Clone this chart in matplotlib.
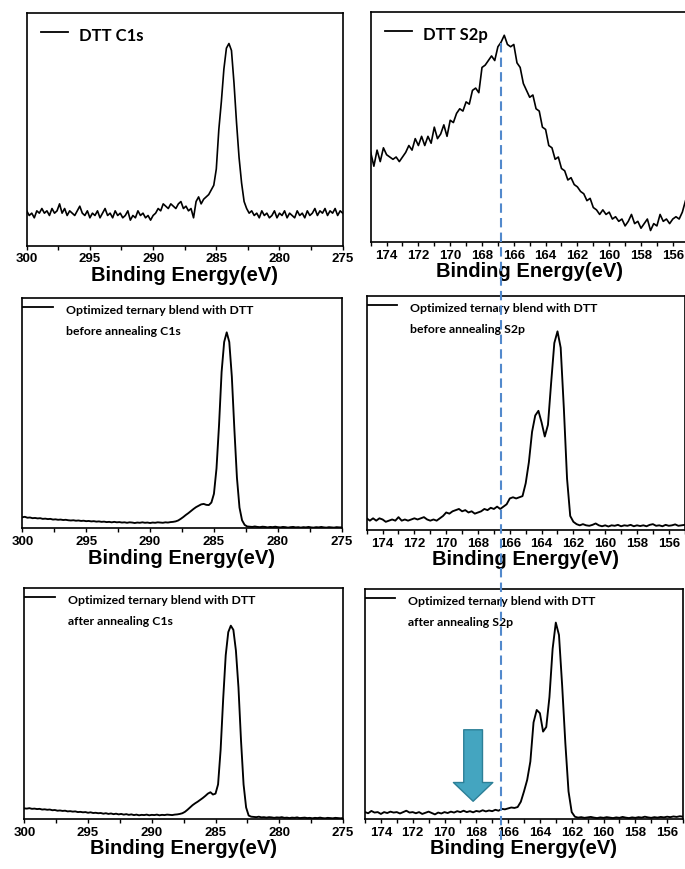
""" XPS C1s / S2p spectra of DTT and the optimized ternary blend (before / after annealing) """

import numpy as np
import matplotlib
matplotlib.use("Agg")
from matplotlib import pyplot as plt
from matplotlib.lines import Line2D
from matplotlib.ticker import MultipleLocator
from matplotlib.font_manager import FontProperties

W, H = 685, 870

# scans are on a 0.2 eV grid, C1s from 300 eV down, S2p from 175 eV down
STEP = 0.2
C1S_START = 300.0
S2P_START = 175.0

# intensities, normalised to the plot height (a.u.)
dtt_c1s = [
	0.15, 0.13, 0.14, 0.12, 0.15, 0.14, 0.16, 0.14, 0.15, 0.13,
	0.16, 0.14, 0.15, 0.18, 0.14, 0.16, 0.13, 0.15, 0.14, 0.13,
	0.15, 0.17, 0.14, 0.13, 0.15, 0.12, 0.14, 0.13, 0.15, 0.12,
	0.14, 0.16, 0.13, 0.14, 0.12, 0.15, 0.13, 0.14, 0.12, 0.13,
	0.15, 0.11, 0.13, 0.12, 0.15, 0.13, 0.14, 0.12, 0.13, 0.11,
	0.13, 0.14, 0.16, 0.15, 0.18, 0.17, 0.16, 0.18, 0.17, 0.16,
	0.18, 0.19, 0.16, 0.17, 0.15, 0.16, 0.12, 0.19, 0.21, 0.18,
	0.20, 0.21, 0.22, 0.24, 0.26, 0.33, 0.50, 0.62, 0.76, 0.85,
	0.87, 0.84, 0.70, 0.53, 0.38, 0.27, 0.19, 0.16, 0.14, 0.15,
	0.13, 0.14, 0.12, 0.15, 0.13, 0.14, 0.12, 0.13, 0.15, 0.12,
	0.14, 0.13, 0.15, 0.12, 0.14, 0.13, 0.12, 0.15, 0.13, 0.14,
	0.12, 0.15, 0.13, 0.14, 0.16, 0.13, 0.15, 0.14, 0.16, 0.13,
	0.15, 0.14, 0.16, 0.13, 0.15, 0.14,
]
dtt_s2p = [
	0.39, 0.33, 0.40, 0.35, 0.41, 0.38, 0.37, 0.36, 0.37, 0.35,
	0.37, 0.39, 0.42, 0.40, 0.45, 0.42, 0.46, 0.42, 0.46, 0.43,
	0.50, 0.45, 0.47, 0.51, 0.46, 0.53, 0.52, 0.56, 0.58, 0.57,
	0.61, 0.60, 0.66, 0.67, 0.65, 0.76, 0.77, 0.79, 0.81, 0.79,
	0.85, 0.87, 0.90, 0.86, 0.85, 0.86, 0.78, 0.76, 0.69, 0.66,
	0.63, 0.64, 0.58, 0.57, 0.50, 0.49, 0.42, 0.41, 0.36, 0.37,
	0.32, 0.31, 0.27, 0.28, 0.25, 0.24, 0.22, 0.21, 0.18, 0.19,
	0.15, 0.14, 0.12, 0.14, 0.12, 0.13, 0.10, 0.11, 0.09, 0.10,
	0.07, 0.09, 0.12, 0.08, 0.09, 0.06, 0.08, 0.10, 0.05, 0.08,
	0.07, 0.12, 0.09, 0.10, 0.08, 0.10, 0.11, 0.10, 0.13, 0.18,
	0.22,
]
before_c1s = [
	0.048, 0.050, 0.046, 0.047, 0.044, 0.045, 0.043, 0.044, 0.041, 0.042,
	0.040, 0.041, 0.038, 0.039, 0.037, 0.038, 0.036, 0.037, 0.035, 0.034,
	0.035, 0.033, 0.034, 0.032, 0.033, 0.031, 0.032, 0.030, 0.031, 0.029,
	0.030, 0.028, 0.029, 0.027, 0.028, 0.026, 0.028, 0.026, 0.027, 0.025,
	0.026, 0.024, 0.026, 0.025, 0.023, 0.025, 0.024, 0.026, 0.024, 0.025,
	0.023, 0.025, 0.024, 0.026, 0.025, 0.024, 0.026, 0.025, 0.027, 0.028,
	0.030, 0.034, 0.041, 0.049, 0.058, 0.066, 0.075, 0.084, 0.092, 0.098,
	0.104, 0.106, 0.102, 0.101, 0.112, 0.150, 0.260, 0.450, 0.680, 0.810,
	0.852, 0.810, 0.660, 0.430, 0.220, 0.090, 0.035, 0.015, 0.008, 0.007,
	0.006, 0.008, 0.006, 0.005, 0.007, 0.006, 0.004, 0.006, 0.005, 0.007,
	0.005, 0.004, 0.006, 0.005, 0.003, 0.005, 0.006, 0.004, 0.005, 0.003,
	0.005, 0.004, 0.006, 0.004, 0.003, 0.005, 0.004, 0.006, 0.004, 0.003,
	0.005, 0.004, 0.003, 0.005, 0.004, 0.004,
]
before_s2p = [
	0.050, 0.040, 0.050, 0.040, 0.050, 0.045, 0.035, 0.040, 0.045, 0.040,
	0.055, 0.040, 0.045, 0.040, 0.045, 0.050, 0.045, 0.050, 0.055, 0.045,
	0.040, 0.045, 0.040, 0.050, 0.060, 0.075, 0.070, 0.080, 0.085, 0.090,
	0.080, 0.085, 0.075, 0.080, 0.070, 0.075, 0.080, 0.090, 0.085, 0.095,
	0.090, 0.100, 0.090, 0.100, 0.110, 0.135, 0.140, 0.135, 0.140, 0.145,
	0.200, 0.290, 0.420, 0.490, 0.510, 0.460, 0.400, 0.450, 0.630, 0.800,
	0.850, 0.780, 0.520, 0.220, 0.060, 0.035, 0.025, 0.020, 0.025, 0.020,
	0.018, 0.022, 0.028, 0.020, 0.016, 0.020, 0.015, 0.020, 0.018, 0.022,
	0.016, 0.020, 0.018, 0.022, 0.016, 0.020, 0.017, 0.020, 0.016, 0.022,
	0.025, 0.018, 0.020, 0.016, 0.022, 0.018, 0.020, 0.024, 0.018, 0.020,
	0.022,
]
after_c1s = [
	0.046, 0.045, 0.047, 0.044, 0.045, 0.043, 0.044, 0.041, 0.042, 0.040,
	0.041, 0.038, 0.039, 0.036, 0.037, 0.035, 0.036, 0.033, 0.034, 0.032,
	0.033, 0.030, 0.031, 0.029, 0.030, 0.027, 0.029, 0.026, 0.027, 0.025,
	0.026, 0.023, 0.025, 0.022, 0.024, 0.021, 0.023, 0.020, 0.022, 0.019,
	0.021, 0.018, 0.020, 0.017, 0.019, 0.016, 0.018, 0.017, 0.019, 0.016,
	0.018, 0.017, 0.019, 0.016, 0.018, 0.017, 0.019, 0.018, 0.017, 0.019,
	0.020, 0.022, 0.025, 0.031, 0.040, 0.050, 0.060, 0.068, 0.075, 0.083,
	0.091, 0.100, 0.110, 0.116, 0.106, 0.110, 0.150, 0.300, 0.520, 0.710,
	0.810, 0.838, 0.820, 0.730, 0.570, 0.340, 0.150, 0.050, 0.015, 0.010,
	0.009, 0.008, 0.010, 0.007, 0.008, 0.006, 0.008, 0.007, 0.005, 0.007,
	0.006, 0.008, 0.005, 0.006, 0.004, 0.006, 0.005, 0.007, 0.004, 0.005,
	0.006, 0.004, 0.005, 0.003, 0.005, 0.004, 0.006, 0.004, 0.003, 0.005,
	0.004, 0.003, 0.005, 0.004, 0.003, 0.004,
]
after_s2p = [
	0.030, 0.025, 0.035, 0.028, 0.030, 0.022, 0.030, 0.026, 0.032, 0.028,
	0.030, 0.024, 0.030, 0.036, 0.028, 0.030, 0.025, 0.030, 0.022, 0.027,
	0.032, 0.026, 0.020, 0.028, 0.024, 0.030, 0.026, 0.032, 0.028, 0.034,
	0.030, 0.036, 0.030, 0.034, 0.029, 0.035, 0.032, 0.038, 0.033, 0.037,
	0.034, 0.040, 0.036, 0.044, 0.042, 0.046, 0.050, 0.048, 0.052, 0.075,
	0.120, 0.170, 0.250, 0.420, 0.474, 0.460, 0.380, 0.400, 0.530, 0.740,
	0.854, 0.800, 0.580, 0.330, 0.120, 0.030, 0.010, 0.006, 0.008, 0.005,
	0.007, 0.009, 0.006, 0.004, 0.007, 0.005, 0.008, 0.006, 0.004, 0.007,
	0.005, 0.009, 0.006, 0.004, 0.007, 0.005, 0.008, 0.006, 0.010, 0.007,
	0.005, 0.008, 0.006, 0.009, 0.007, 0.010, 0.008, 0.011, 0.009, 0.012,
	0.010,
]

# feature of DTT marked by the dashed line, arrow on the annealed film
MARKER_ENERGY = 166.8
ARROW_ENERGY = 168.2
ARROW_FROM, ARROW_TO = 0.40, 0.065

XLABEL = "Binding Energy(eV)"
panels = [
	# data, start, legend text, rect in px (left, top, right, bottom), legend style
	(dtt_c1s, C1S_START, "DTT C1s", (26.7, 14.3, 342.7, 246.7), "big"),
	(dtt_s2p, S2P_START, "DTT S2p", (370.7, 13.3, 688.7, 243.0), "big"),
	(before_c1s, C1S_START, "Optimized ternary blend with DTT\nbefore annealing C1s", (22.3, 299.3, 341.7, 529.3), "small"),
	(before_s2p, S2P_START, "Optimized ternary blend with DTT\nbefore annealing S2p", (366.7, 297.3, 684.7, 531.0), "small"),
	(after_c1s, C1S_START, "Optimized ternary blend with DTT\nafter annealing C1s", (24.3, 589.3, 343.0, 820.0), "small"),
	(after_s2p, S2P_START, "Optimized ternary blend with DTT\nafter annealing S2p", (365.0, 590.0, 683.0, 820.0), "small"),
]

TICK_FONT = FontProperties(family="Liberation Sans", weight="bold", size=9.5)
LABEL_FONT = dict(family="Liberation Sans", weight="bold", size=14.5)

fig = plt.figure(figsize=(W/100, H/100), dpi=100)
fig.patch.set_facecolor("white")

axes = []
for values, start, legend, (left, top, right, bottom), style in panels:
	ax = fig.add_axes([left/W, 1 - bottom/H, (right - left)/W, (bottom - top)/H])
	energy = start - STEP*np.arange(len(values))
	lw = 1.2 if style == "big" else 1.35
	ax.plot(energy, values, color="black", lw=lw)
	if start == C1S_START:
		ax.set_xlim(300, 275)
		ax.xaxis.set_major_locator(MultipleLocator(5))
		ax.xaxis.set_minor_locator(MultipleLocator(2.5))
	else:
		ax.set_xlim(175, 155)
		ax.xaxis.set_major_locator(MultipleLocator(2))
		ax.xaxis.set_minor_locator(MultipleLocator(1))
	ax.set_ylim(0, 1)
	ax.set_yticks([])
	for spine in ax.spines.values():
		spine.set_linewidth(1.2)
	ax.tick_params(axis="x", which="both", direction="out", length=3.2, width=1.0, pad=1.5)
	for lab in ax.get_xticklabels():
		lab.set_fontproperties(TICK_FONT)
	ax.set_xlabel(XLABEL, labelpad=0.5, **LABEL_FONT)

	# legend sample line + text, drawn by hand to match the original layout
	if style == "big":
		ax.plot([0.044, 0.13], [0.92, 0.92], transform=ax.transAxes, color="black", lw=1.3)
		ax.text(0.165, 0.905, legend, transform=ax.transAxes, ha="left", va="center",
		        family="Lato", weight="bold", size=12)
	else:
		ax.plot([0.0, 0.095], [0.963, 0.963], transform=ax.transAxes, color="black", lw=1.3)
		ax.text(0.136, 0.975, legend, transform=ax.transAxes, ha="left", va="top",
		        family="Lato", weight="bold", size=8.8, linespacing=2.1)
	axes.append(ax)

# dashed guide line through the three S2p panels
ax_top = axes[1]
x_px = ax_top.transData.transform((MARKER_ENERGY, 0))[0]
fig.add_artist(Line2D([x_px/W, x_px/W], [1 - 44/H, 1 - 842/H], transform=fig.transFigure,
                      color="#5289cc", lw=1.5, dashes=(4.5, 2.5)))

# arrow pointing at the missing feature after annealing
axes[5].annotate("", xy=(ARROW_ENERGY, ARROW_TO), xytext=(ARROW_ENERGY, ARROW_FROM),
                 arrowprops=dict(arrowstyle="simple,head_length=1.0,head_width=2.1,tail_width=1.0",
                                 mutation_scale=13.5, facecolor="#44a5c0", edgecolor="#2c7f97", lw=1.0))

fig.savefig("out.png", dpi=100)
